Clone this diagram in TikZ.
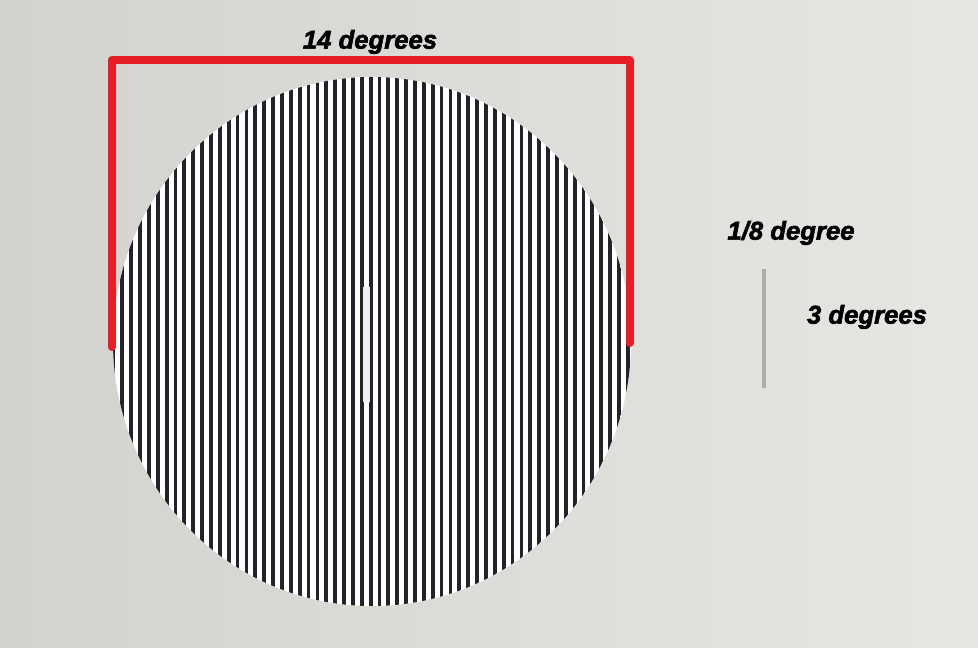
\documentclass[tikz,border=0pt]{standalone}
\usepackage{fontspec}
\setmainfont{Liberation Sans}
\newfontfamily\heavyfont[BoldItalicFeatures={FakeBold=2.2}]{Liberation Sans}
\definecolor{bgL}{RGB}{210,210,207}
\definecolor{bgR}{RGB}{230,230,227}
\definecolor{stripe}{RGB}{32,36,42}
\definecolor{bracketred}{RGB}{232,30,38}
\definecolor{barwhite}{RGB}{238,238,236}
\definecolor{linegray}{RGB}{172,172,168}
\tikzset{
  lbl/.style={font=\heavyfont\fontsize{25.7}{30}\selectfont\bfseries\itshape, text=black, inner sep=0pt},
  bracket/.style={draw=bracketred, line width=8pt, line cap=round, line join=round},
}
\begin{document}
\begin{tikzpicture}[x=1pt,y=-1pt]
\useasboundingbox (0,0) rectangle (978,648);
\shade[left color=bgL, right color=bgR] (0,0) rectangle (978,648);
% grating disc
\begin{scope}
  \clip (372,341.5) ellipse [x radius=259, y radius=264.5];
  \fill[white] (100,70) rectangle (640,615);
  \foreach \i in {-1,...,60}
    \fill[stripe] ({113.4+\i*8.87-1.9},70) rectangle ++(3.8,545);
\end{scope}
% central white bar
\fill[barwhite] (362.5,287) rectangle (369.5,402);
% bracket
\coordinate (bl) at (111.5,347);
\coordinate (tl) at (111.5,60);
\coordinate (tr) at (629.5,60);
\coordinate (br) at (629.5,343);
\draw[bracket] (bl) -- (tl) -- (tr) -- (br);
% small gray line
\coordinate (gt) at (763.5,269);
\coordinate (gb) at (763.5,388);
\draw[linegray, line width=4pt] (gt) -- (gb);
% labels
\node[lbl] (t14) at (370,42) {14 degrees};
\node[lbl] (t18) at (791,233) {1/8 degree};
\node[lbl] (t3) at (867,317) {3 degrees};
\end{tikzpicture}
\end{document}
